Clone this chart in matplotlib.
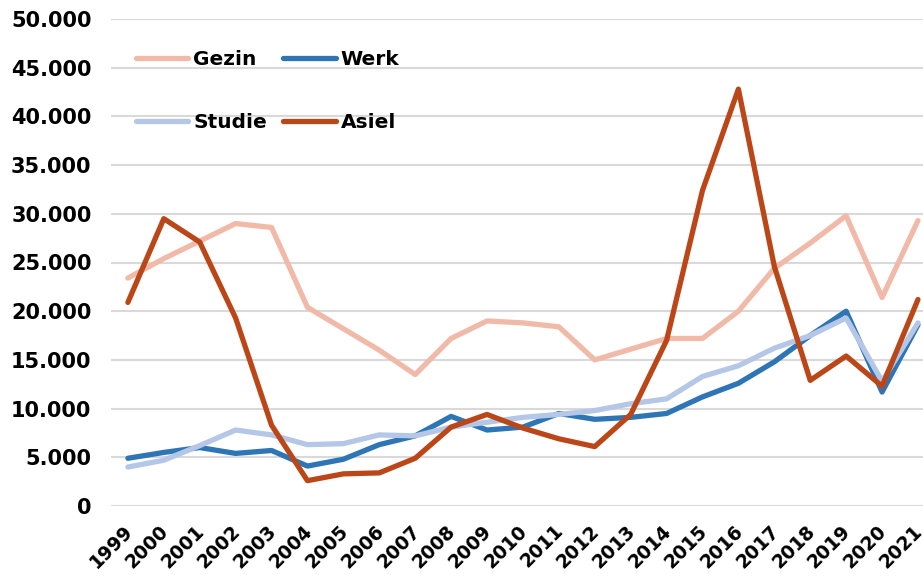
import matplotlib
matplotlib.use("Agg")
import matplotlib.pyplot as plt
from matplotlib.ticker import FuncFormatter
from matplotlib.transforms import ScaledTranslation

years = [str(y) for y in range(1999, 2022)]

gezin = [23400, 25400, 27200, 29000, 28600, 20400, 18200, 16000, 13500, 17200,
         19000, 18800, 18400, 15000, 16100, 17200, 17200, 20000, 24400, 27000,
         29800, 21400, 29300]
werk = [4900, 5500, 6000, 5400, 5700, 4100, 4800, 6300, 7200, 9200,
        7800, 8100, 9500, 8900, 9100, 9500, 11200, 12600, 14800, 17500,
        20000, 11700, 18600]
studie = [4000, 4700, 6200, 7800, 7300, 6300, 6400, 7300, 7200, 8100,
          8600, 9100, 9400, 9800, 10500, 11000, 13300, 14400, 16200, 17500,
          19300, 12800, 18800]
asiel = [20900, 29500, 27100, 19300, 8300, 2600, 3300, 3400, 4900, 8100,
         9400, 8000, 6900, 6100, 9400, 17000, 32400, 42800, 24600, 12900,
         15400, 12300, 21200]

plt.rcParams['font.family'] = ['DejaVu Sans']
plt.rcParams['font.weight'] = 'bold'

fig = plt.figure(figsize=(9.23, 5.78), dpi=100)
ax = fig.add_axes([111 / 923, 72 / 578, 1 - 111 / 923, 487 / 578])

x = range(len(years))
lw = 3.8
l_gezin, = ax.plot(x, gezin, color='#f1b9a7', lw=lw, solid_capstyle='round', label='Gezin')
l_werk, = ax.plot(x, werk, color='#2e75b6', lw=lw, solid_capstyle='round', label='Werk')
l_studie, = ax.plot(x, studie, color='#b4c7e7', lw=lw, solid_capstyle='round', label='Studie')
l_asiel, = ax.plot(x, asiel, color='#bb4719', lw=lw, solid_capstyle='round', label='Asiel')

ax.set_xlim(-0.47, 22.14)
ax.set_ylim(0, 50000)
ax.set_yticks(range(0, 50001, 5000))
ax.yaxis.set_major_formatter(FuncFormatter(lambda v, p: f"{int(v):,}".replace(',', '.')))
ax.set_xticks(list(x))
ax.set_xticklabels(years, rotation=45, ha='right', va='top', rotation_mode='anchor')
ax.tick_params(axis='both', length=0)
ax.tick_params(axis='x', pad=11, labelsize=13.5)
ax.tick_params(axis='y', pad=14, labelsize=15)
shift = ScaledTranslation(-5 / 100, 0, fig.dpi_scale_trans)
for lab in ax.get_xticklabels():
    lab.set_transform(lab.get_transform() + shift)
for lab in ax.get_xticklabels() + ax.get_yticklabels():
    lab.set_fontweight('bold')

ax.grid(axis='y', color='#d9d9d9', lw=1.5)
ax.set_axisbelow(True)
for s in ax.spines.values():
    s.set_visible(False)

fig.legend(handles=[l_gezin, l_studie, l_werk, l_asiel], ncol=2, frameon=False,
           loc='upper left', bbox_to_anchor=(136 / 923, 1 - 50 / 578),
           borderpad=0, borderaxespad=0, handlelength=2.6, handletextpad=0.25,
           columnspacing=0.8, labelspacing=2.2,
           prop={'size': 14.5, 'weight': 'bold'})

fig.savefig('out.png', dpi=100)
